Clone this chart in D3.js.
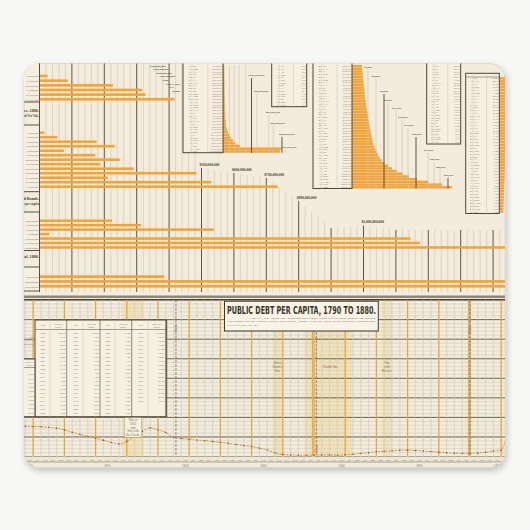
<!DOCTYPE html>
<html>
<head>
<meta charset="utf-8">
<script src="https://cdn.jsdelivr.net/npm/d3@7/dist/d3.min.js"></script>
<style>
  html, body { margin: 0; padding: 0; background: #f7f7f5; }
  svg { display: block; }
  .tiny { font-family: 'Liberation Serif', 'DejaVu Serif', serif; fill: #7a7264; }
  .lbl { font-family: 'Liberation Serif', 'DejaVu Serif', serif; fill: #4a4235; font-weight: bold; }
</style>
</head>
<body>
<div id="graphic"></div>
<script>
// ---------- upper section: bar groups, values in $ millions ----------
const debtGroup = [25, 87, 227, 317, 327, 417];
const valuationGroup = [15, 55, 176, 232, 75, 172, 248, 188, 291, 484, 211, 530, 735];
const bondsGroup = [224, 314, 538, 31, 1145, 1174, 1500];
const totalGroup = [385, 1500, 1500];
const groupTitles = [['Total Debt, 1880.', ''], ['Debt of Cities, 1880.', 'Assessed Ver Val.,'], ['Railroad Bonds.', 'Stock per capita'], ['Total, 1880.', '']];
const scaleLabels = [500, 600, 700, 800, 1000];

// city debts (small histogram, $ millions) and per capita valuation (large histogram, $)
const cityDebt = [3.7, 4.0, 4.0, 4.3, 4.3, 4.6, 4.6, 4.6, 4.9, 4.9, 5.2, 5.2, 5.6, 5.6, 5.9, 6.2,
  6.5, 6.8, 7.1, 7.7, 8.6, 9.3, 10.2, 12.3, 15.4, 20.1, 24.7, 30.9, 38.6, 52.5, 179, 176];
const perCapitaValuation = [2500, 2550, 2620, 2700, 2750, 2820, 2900, 2970, 3050, 3120, 3170, 3250,
  3350, 3420, 3500, 3620, 3700, 3800, 3920, 4020, 4150, 4270, 4370, 4500, 4620, 4800, 4920, 5050,
  5200, 5350, 5620, 5900, 6200, 6500, 6870, 7400, 8120, 9100, 10000, 11250, 12620, 14250, 16250,
  19000, 22500, 25000];
const stateNames = ['Me.', 'N. H.', 'Vt.', 'Mass.', 'R. I.', 'Conn.', 'N. Y.', 'N. J.', 'Pa.', 'Del.',
  'Md.', 'D. C.', 'Va.', 'W. Va.', 'N. C.', 'S. C.', 'Ga.', 'Fla.', 'Ala.', 'Miss.', 'La.', 'Tex.',
  'Ark.', 'Tenn.', 'Ky.', 'Ohio', 'Mich.', 'Ind.', 'Ill.', 'Wis.', 'Minn.', 'Iowa', 'Mo.', 'Kans.',
  'Nebr.', 'Cal.', 'Oreg.', 'Nev.', 'Colo.', 'Ariz.', 'Dak.', 'Idaho', 'Mont.', 'N. Mex.', 'Utah',
  'Wash.', 'Wyo.'];
const statePerCapita = [62.4, 48.1, 41.7, 38.2, 35.9, 31.4, 28.8, 26.5, 24.9, 22.3, 20.8, 19.6, 18.4,
  17.1, 16.3, 15.2, 14.6, 13.9, 12.8, 12.1, 11.5, 10.7, 10.2, 9.6, 9.1, 8.4, 7.9, 7.3, 6.8, 6.2, 5.7,
  5.3, 4.8, 4.4, 3.9, 3.5, 3.1, 2.8, 2.4, 2.1, 1.8, 1.5, 1.2, 0.9, 0.7, 0.4, 0.2];
const cityStems = [20, 35, 50, 70, 88, 105, 141, 155, 182, 191];
const cityStemLabels = ['', '', '', '', '$100,000,000', '$50,000,000', '$25,000,000', '$10,000,000', '$200,000,000', '$50,000,000'];
const valuationStems = [4000, 6000, 8000, 9000, 11000, 12500, 14000, 16000, 19000, 20500, 22000, 24000];

// ---------- lower section: public debt per capita, 1790 to 1880 ----------
const firstYear = 1790;
const debtPerCapita = [19.0, 19.15, 19.1, 19.4, 18.9, 19.0, 18.2, 16.4, 15.6, 15.7,
  15.5, 15.3, 15.2, 14.9, 14.5, 13.6, 12.4, 11.3, 10.3, 9.3,
  8.3, 7.2, 6.4, 7.8, 10.3, 12.9, 14.7, 13.6, 12.3, 9.8,
  9.2, 8.8, 8.4, 8.1, 7.7, 7.3, 6.8, 6.2, 5.6, 5.1,
  4.3, 3.4, 1.9, 1.0, 0.8, 0.7, 0.7, 0.7, 0.8, 0.8,
  0.7, 0.9, 1.2, 1.6, 1.9, 2.5, 2.7, 2.9, 3.2, 3.3,
  3.1, 2.8, 2.5, 2.2, 1.9, 1.7, 1.6, 1.6, 1.8, 2.2,
  2.8, 3.2, 15.8, 32.0, 52.1, 75.0, 77.0, 71.4, 68.3, 64.9,
  61.1, 56.8, 53.2, 50.5, 49.2, 47.5, 45.7, 43.6, 43.5, 42.6, 38.3];
const inaugurations = [1793, 1797, 1801, 1805, 1809, 1813, 1817, 1821, 1825, 1829, 1833, 1837, 1841, 1845, 1849, 1853, 1857, 1861];
const doubleLines = [1837, 1857];
const panics = [1819.3, 1837.3, 1857];
const wars = [
  { name: ['War of', '1812', 'and', 'War with', 'the Creeks.'], start: 1812.4, end: 1815.2 },
  { name: ['Black', "Hawk's", 'War.'], start: 1831.7, end: 1832.9 },
  { name: ['Florida War.'], start: 1835.8, end: 1841.9 },
  { name: ['War', 'with', 'Mexico.'], start: 1845.7, end: 1847 }
];

// ---------- colours ----------
const cream = '#f3ebdb';
const orange = '#f0a43a';
const dark = '#4d4538';
const light = '#cdc4b2';

const svg = d3.select('#graphic').append('svg').attr('width', 530).attr('height', 530);
const defs = svg.append('defs');
defs.append('clipPath').attr('id', 'pad-clip')
  .append('rect').attr('x', 24).attr('y', 63.5).attr('width', 481).attr('height', 404).attr('rx', 15);
defs.append('filter').attr('id', 'shadow').attr('x', '-5%').attr('y', '-5%').attr('width', '112%').attr('height', '115%')
  .append('feDropShadow').attr('dx', 1.5).attr('dy', 3).attr('stdDeviation', 3)
  .attr('flood-color', '#000').attr('flood-opacity', 0.22);

// the mouse pad
svg.append('rect').attr('x', 24).attr('y', 63.5).attr('width', 481).attr('height', 404).attr('rx', 15)
  .attr('fill', cream).attr('stroke', '#ddd3c0').attr('stroke-width', 0.8).attr('filter', 'url(#shadow)');

const chart = svg.append('g').attr('clip-path', 'url(#pad-clip)');

// ================= upper section =================
const x = d3.scaleLinear().domain([0, 1000]).range([39.5, 363.5]);
const gridStart = d3.scaleLinear().domain([500, 600, 700, 800, 900, 1000, 1100])
  .range([168, 173, 178, 201, 228, 225.5, 230]).clamp(true);

chart.append('g').selectAll('line')
  .data(d3.range(0, 1461, 20))
  .join('line')
  .attr('x1', d => x(d)).attr('x2', d => x(d))
  .attr('y1', d => d < 500 ? 60 : gridStart(d))
  .attr('y2', 292)
  .attr('stroke', d => d % 100 === 0 ? dark : light)
  .attr('stroke-width', d => d % 100 === 0 ? 0.9 : 0.6);

// scale labels on the stepped lines
chart.append('g').selectAll('text')
  .data(scaleLabels)
  .join('text')
  .attr('class', 'lbl')
  .attr('x', d => x(d) - 2)
  .attr('y', d => gridStart(d) - 2.5)
  .attr('font-size', 3.6)
  .text(d => d3.format('$,')(d * 1e6));

// bar groups
const groupLayout = [[73.7, 101.6], [130.45, 188.95], [218.5, 249.7], [274.3, 288.6]];
const boxLayout = [[60, 102], [125, 191.7], [212, 250.5], [267, 291]];
const titleY = [0, 112, 200, 258];
[debtGroup, valuationGroup, bondsGroup, totalGroup].forEach((vals, gi) => {
  const y = d3.scaleBand().domain(d3.range(vals.length))
    .range(groupLayout[gi]).paddingInner(0.43).paddingOuter(0.215);

  chart.append('g').selectAll('rect')
    .data(vals)
    .join('rect')
    .attr('x', x(0))
    .attr('y', (d, i) => y(i))
    .attr('width', d => x(d) - x(0))
    .attr('height', y.bandwidth())
    .attr('fill', orange);

  // the label box at the left
  chart.append('rect').attr('x', 10).attr('y', boxLayout[gi][0])
    .attr('width', 29.5).attr('height', boxLayout[gi][1] - boxLayout[gi][0])
    .attr('fill', '#f6efe1').attr('stroke', dark).attr('stroke-width', 0.9);
  chart.append('g').selectAll('text')
    .data(vals)
    .join('text')
    .attr('class', 'tiny')
    .attr('x', 38.3)
    .attr('y', (d, i) => y(i) + y.bandwidth())
    .attr('text-anchor', 'end')
    .attr('font-size', 2.6)
    .text(d => d3.format(',')(Math.round(d * 1e6)));

  if (titleY[gi]) {
    groupTitles[gi].forEach((t, k) => {
      chart.append('text').attr('class', 'lbl')
        .attr('x', 39).attr('y', titleY[gi] + k * 4.5)
        .attr('text-anchor', 'end')
        .attr('font-size', k ? 3.2 : 4.2)
        .attr('font-weight', k ? 'normal' : 'bold')
        .text(t);
    });
  }
});

// generic little table of tiny rows
function drawTable(x0, x1, y0, y1, rowScale, rows) {
  chart.append('rect').attr('x', x0).attr('y', y0).attr('width', x1 - x0).attr('height', y1 - y0)
    .attr('fill', '#f6efe1').attr('stroke', dark).attr('stroke-width', 1);
  const w = x1 - x0;
  [0.22, 0.62].forEach(f => {
    chart.append('line').attr('x1', x0 + w * f).attr('x2', x0 + w * f).attr('y1', y0).attr('y2', y1)
      .attr('stroke', light).attr('stroke-width', 0.5);
  });
  const g = chart.append('g');
  rows.forEach((r, i) => {
    const yy = rowScale(i) + rowScale.bandwidth() * 0.85;
    g.append('text').attr('class', 'tiny').attr('x', x0 + w * 0.2).attr('y', yy)
      .attr('text-anchor', 'end').attr('font-size', 2.4).text(r[0]);
    g.append('text').attr('class', 'tiny').attr('x', x0 + w * 0.25).attr('y', yy)
      .attr('font-size', 2.4).text(r[1]);
    g.append('text').attr('class', 'tiny').attr('x', x1 - 1.2).attr('y', yy)
      .attr('text-anchor', 'end').attr('font-size', 2.4).text(r[2]);
  });
}

// city debt table + histogram
const h1x = d3.scaleLinear().domain([0, 200]).range([223, 223 + 64.8]);
const h1y = d3.scaleBand().domain(d3.range(cityDebt.length)).range([65, 152.7]).paddingInner(0.1);
chart.append('g').selectAll('rect')
  .data(cityDebt)
  .join('rect')
  .attr('x', h1x(0)).attr('y', (d, i) => h1y(i))
  .attr('width', d => h1x(d) - h1x(0)).attr('height', h1y.bandwidth())
  .attr('fill', orange);
drawTable(183, 223, 58, 152.7, h1y,
  cityDebt.map((d, i) => [cityDebt.length - i, stateNames[(i * 3) % stateNames.length], d3.format(',')(Math.round(d * 1e6))]));

const h1StemTop = [65, 65, 65, 65, 78, 94, 115, 126, 137, 150];
chart.append('g').selectAll('line')
  .data(cityStems)
  .join('line')
  .attr('x1', d => h1x(d)).attr('x2', d => h1x(d))
  .attr('y1', (d, i) => h1StemTop[i]).attr('y2', 153)
  .attr('stroke', (d, i) => (i === 4 || i === 8) ? dark : light)
  .attr('stroke-width', (d, i) => (i === 4 || i === 8) ? 0.9 : 0.6);
chart.append('g').selectAll('text')
  .data(cityStems)
  .join('text')
  .attr('class', 'lbl')
  .attr('x', d => h1x(d) - 3)
  .attr('y', (d, i) => h1StemTop[i] - 2)
  .attr('font-size', 2.9)
  .text((d, i) => cityStemLabels[i]);

// second table next to the city histogram
const t2y = d3.scaleBand().domain(d3.range(15)).range([65, 106]);
drawTable(271.7, 306.7, 58, 106.7, t2y,
  d3.range(15).map(i => [i + 1, stateNames[i + 20], d3.format('.1f')(statePerCapita[i + 10])]));

// per capita valuation table + histogram
const h2x = d3.scaleLinear().domain([0, 25000]).range([352, 452]);
const h2y = d3.scaleBand().domain(d3.range(perCapitaValuation.length)).range([65, 188.5]).paddingInner(0.1);
chart.append('g').selectAll('rect')
  .data(perCapitaValuation)
  .join('rect')
  .attr('x', h2x(0)).attr('y', (d, i) => h2y(i))
  .attr('width', d => h2x(d) - h2x(0)).attr('height', h2y.bandwidth())
  .attr('fill', orange);
drawTable(313, 352, 58, 188.5, h2y,
  perCapitaValuation.map((d, i) => [perCapitaValuation.length - i, stateNames[i % stateNames.length], d3.format(',.2f')(d)]));

const h2StemTop = [70, 79, 94, 103, 111, 120, 128, 137, 153, 162, 170, 178];
chart.append('g').selectAll('line')
  .data(valuationStems)
  .join('line')
  .attr('x1', d => h2x(d)).attr('x2', d => h2x(d))
  .attr('y1', (d, i) => h2StemTop[i]).attr('y2', 188.5)
  .attr('stroke', d => d % 8000 === 0 ? dark : light)
  .attr('stroke-width', d => d % 8000 === 0 ? 0.9 : 0.6);

// two right hand tables (drawn before the stem labels so the labels stay on top)
const t4y = d3.scaleBand().domain(d3.range(29)).range([65, 143.5]);
drawTable(426.7, 460.7, 58, 144, t4y,
  d3.range(29).map(i => [i + 1, stateNames[(i + 7) % stateNames.length], d3.format('.2f')(statePerCapita[i])]));

chart.append('g').selectAll('text')
  .data(valuationStems)
  .join('text')
  .attr('class', 'lbl')
  .attr('x', d => h2x(d) - 4)
  .attr('y', (d, i) => h2StemTop[i] - 2)
  .attr('font-size', 2.9)
  .text(d => d3.format('$,')(d));

const t5y = d3.scaleBand().domain(d3.range(statePerCapita.length)).range([77, 213]);
const t5x = d3.scaleLinear().domain([0, 60]).range([499.3, 520]);
chart.append('g').selectAll('rect')
  .data(statePerCapita)
  .join('rect')
  .attr('x', t5x(0)).attr('y', (d, i) => t5y(i) + 0.2)
  .attr('width', d => t5x(d) - t5x(0) + 4).attr('height', t5y.bandwidth() - 0.4)
  .attr('fill', orange);
drawTable(465.7, 499.3, 73.3, 213.5, t5y,
  statePerCapita.map((d, i) => [i + 1, stateNames[i], d3.format('.2f')(d)]));
chart.append('line').attr('x1', 465.7).attr('x2', 499.3).attr('y1', 77).attr('y2', 77)
  .attr('stroke', dark).attr('stroke-width', 0.5);

// stray labels from the chart off the pad, top left
const topNotes = ['$300,000,000', '$350,000,000', '$400,000,000', '$450,000,000', '$400', 'CHICAGO,', 'ILL.', '$0,000'];
chart.append('g').selectAll('text')
  .data(topNotes)
  .join('text')
  .attr('class', 'lbl')
  .attr('x', (d, i) => 150 + i * 3.2)
  .attr('y', (d, i) => 66.5 + i * 3.6)
  .attr('font-size', 2.8)
  .text(d => d);

// heavy rule between the two charts
chart.append('rect').attr('x', 0).attr('y', 295.5).attr('width', 530).attr('height', 2.5).attr('fill', '#8f8776');
chart.append('line').attr('x1', 0).attr('x2', 530).attr('y1', 299.6).attr('y2', 299.6)
  .attr('stroke', '#3f382d').attr('stroke-width', 1.3);

// ================= lower section =================
const years = debtPerCapita.map((d, i) => firstYear + i);
const xYear = d3.scaleLinear().domain([1812, 1860]).range([119, 493.4]);
const yDebt = d3.scaleLinear().domain([0, 80]).range([456.5, 300.1]);
const lower = chart.append('g');

// war bands
lower.append('g').selectAll('rect')
  .data(wars)
  .join('rect')
  .attr('x', d => xYear(d.start)).attr('y', 300)
  .attr('width', d => xYear(d.end) - xYear(d.start)).attr('height', 156.5)
  .attr('fill', '#f1d68c').attr('opacity', 0.45);

// light grid
lower.append('g').selectAll('line')
  .data(d3.range(0, 81, 2))
  .join('line')
  .attr('x1', 0).attr('x2', 530)
  .attr('y1', d => yDebt(d)).attr('y2', d => yDebt(d))
  .attr('stroke', d => d % 10 === 0 ? '#5a5244' : '#cfcac0')
  .attr('stroke-width', d => d % 10 === 0 ? 0.9 : 0.55);
lower.append('g').selectAll('line')
  .data(years)
  .join('line')
  .attr('x1', d => xYear(d)).attr('x2', d => xYear(d))
  .attr('y1', 300).attr('y2', 462)
  .attr('stroke', '#c9c6c0').attr('stroke-width', 0.6);

// presidential terms in orange
lower.append('g').selectAll('line')
  .data(inaugurations)
  .join('line')
  .attr('x1', d => xYear(d)).attr('x2', d => xYear(d))
  .attr('y1', 300).attr('y2', 462)
  .attr('stroke', '#e9a63c').attr('stroke-width', 1.2);
lower.append('g').selectAll('line')
  .data(doubleLines)
  .join('line')
  .attr('x1', d => xYear(d) - 1.6).attr('x2', d => xYear(d) - 1.6)
  .attr('y1', 300).attr('y2', 462)
  .attr('stroke', '#e9a63c').attr('stroke-width', 1);

// panics
lower.append('g').selectAll('line')
  .data(panics)
  .join('line')
  .attr('x1', d => xYear(d)).attr('x2', d => xYear(d))
  .attr('y1', 300).attr('y2', 458)
  .attr('stroke', '#6b6252').attr('stroke-width', 0.7)
  .attr('stroke-dasharray', '3,1');
const panicLabelY = [328, 448, 329];
panics.forEach((p, i) => {
  lower.append('text').attr('class', 'tiny')
    .attr('transform', `translate(${xYear(p) + 1.2},${panicLabelY[i]}) rotate(-90)`)
    .attr('text-anchor', 'middle').attr('font-size', 3.4).attr('fill', '#5d5548')
    .text('Panic');
});

// the debt per capita line
const line = d3.line().x((d, i) => xYear(years[i])).y(d => yDebt(d)).curve(d3.curveMonotoneX);
lower.append('path').datum(debtPerCapita)
  .attr('d', line)
  .attr('fill', 'none')
  .attr('stroke', '#c98f3c')
  .attr('stroke-width', 0.9)
  .attr('stroke-dasharray', '2.2,1.2');
lower.append('g').selectAll('circle')
  .data(debtPerCapita)
  .join('circle')
  .attr('cx', (d, i) => xYear(years[i]))
  .attr('cy', d => yDebt(d))
  .attr('r', 0.7)
  .attr('fill', '#6e5630');

// war labels
wars.forEach((w, wi) => {
  const cx = (xYear(w.start) + xYear(w.end)) / 2 + (wi === 2 ? 2 : 0);
  const y0 = wi === 0 ? 421 : 364;
  if (wi === 0) {
    lower.append('rect').attr('x', cx - 8.5).attr('y', 417.5).attr('width', 17).attr('height', 20)
      .attr('fill', '#f6efdc').attr('stroke', '#8a8270').attr('stroke-width', 0.4);
  }
  w.name.forEach((t, k) => {
    lower.append('text').attr('class', 'tiny')
      .attr('x', cx).attr('y', y0 + k * 3.8 + (wi === 2 ? 4 : 0))
      .attr('text-anchor', 'middle').attr('font-size', 3.1).attr('fill', '#4f473a')
      .text(t);
  });
});

// table of values, lower left
const pairs = [[35, 50, 66.7], [68, 83, 100], [100, 115, 131.7], [133, 148, 165.5]];
lower.append('rect').attr('x', 35).attr('y', 320).attr('width', 131.7).attr('height', 96.7)
  .attr('fill', '#f6f0e3').attr('stroke', dark).attr('stroke-width', 1);
lower.append('rect').attr('x', 10).attr('y', 359).attr('width', 25).attr('height', 57.7)
  .attr('fill', '#f6f0e3').attr('stroke', dark).attr('stroke-width', 1);
lower.append('line').attr('x1', 35).attr('x2', 166.7).attr('y1', 329.5).attr('y2', 329.5)
  .attr('stroke', dark).attr('stroke-width', 0.5);
const rowY = d3.scaleBand().domain(d3.range(21)).range([330.5, 414.5]);
pairs.forEach((p, pi) => {
  lower.append('line').attr('x1', p[1]).attr('x2', p[1]).attr('y1', 320).attr('y2', 416.7)
    .attr('stroke', light).attr('stroke-width', 0.5);
  lower.append('line').attr('x1', p[2]).attr('x2', p[2]).attr('y1', 320).attr('y2', 416.7)
    .attr('stroke', dark).attr('stroke-width', 0.6);
  lower.append('text').attr('class', 'tiny').attr('x', (p[0] + p[1]) / 2).attr('y', 326)
    .attr('text-anchor', 'middle').attr('font-size', 2.8).attr('fill', '#4f473a').text('Year');
  ['Debt per', 'capita.'].forEach((t, k) => {
    lower.append('text').attr('class', 'tiny').attr('x', (p[1] + p[2]) / 2).attr('y', 324.5 + k * 3)
      .attr('text-anchor', 'middle').attr('font-size', 2.6).attr('fill', '#4f473a').text(t);
  });
  const start = 1800 + pi * 21;
  d3.range(21).forEach(r => {
    const yr = start + r;
    if (yr > 1880) return;
    const v = debtPerCapita[yr - firstYear];
    const yy = rowY(r) + rowY.bandwidth() * 0.8;
    lower.append('text').attr('class', 'tiny').attr('x', (p[0] + p[1]) / 2).attr('y', yy)
      .attr('text-anchor', 'middle').attr('font-size', 2.6).text(yr);
    lower.append('text').attr('class', 'tiny').attr('x', p[2] - 1.3).attr('y', yy)
      .attr('text-anchor', 'end').attr('font-size', 2.6).text((r === 0 ? '$' : '') + d3.format('.2f')(v));
  });
});
// partial column for the 1790s
['Debt per', 'capita.'].forEach((t, k) => {
  lower.append('text').attr('class', 'tiny').attr('x', 33.5).attr('y', 363 + k * 3)
    .attr('text-anchor', 'end').attr('font-size', 2.6).attr('fill', '#4f473a').text(t);
});
lower.append('line').attr('x1', 10).attr('x2', 35).attr('y1', 367.5).attr('y2', 367.5)
  .attr('stroke', dark).attr('stroke-width', 0.5);
const oldRows = d3.scaleBand().domain(d3.range(10)).range([372, 414.5]);
debtPerCapita.slice(0, 10).forEach((v, r) => {
  lower.append('text').attr('class', 'tiny').attr('x', 33.7).attr('y', oldRows(r) + oldRows.bandwidth() * 0.8)
    .attr('text-anchor', 'end').attr('font-size', 2.6).text(d3.format('.2f')(v));
});
['Year', 'Excess of', 'expenditure'].forEach((t, k) => {
  lower.append('text').attr('class', 'tiny').attr('x', 34).attr('y', 338 + k * 3.4)
    .attr('text-anchor', 'end').attr('font-size', 2.6).text(t);
});

// title box
lower.append('rect').attr('x', 224.5).attr('y', 301.2).attr('width', 153.8).attr('height', 29.8)
  .attr('fill', '#f8f3e7').attr('stroke', '#3f382d').attr('stroke-width', 1);
lower.append('text')
  .attr('x', 227).attr('y', 314.2)
  .attr('font-family', "'Liberation Sans Narrow', 'DejaVu Sans Condensed', 'Liberation Sans', sans-serif")
  .attr('font-weight', 'bold').attr('font-size', 10.6).attr('fill', '#3a3329')
  .attr('textLength', 149).attr('lengthAdjust', 'spacingAndGlyphs')
  .text('PUBLIC DEBT PER CAPITA, 1790 TO 1880.');
const noteLines = [
  'Note.—The color line crossing this chart from left to right shows the annual',
  'variations of the Public Debt, per capita, from 1790 to 1880. (For further explanation,',
  'see Plate of Chart, Plate 34.)'
];
noteLines.forEach((t, k) => {
  const el = lower.append('text').attr('class', 'tiny')
    .attr('x', k === 0 ? 250 : 227).attr('y', 319 + k * 3.4)
    .attr('font-size', 2.7).attr('fill', '#6a6253').text(t);
  if (k < 2) el.attr('textLength', k === 0 ? 126 : 149).attr('lengthAdjust', 'spacingAndGlyphs');
});

// bottom strip with the years
lower.append('rect').attr('x', 0).attr('y', 456.5).attr('width', 530).attr('height', 5.5)
  .attr('fill', '#ede5d4');
lower.append('line').attr('x1', 0).attr('x2', 530).attr('y1', 462).attr('y2', 462)
  .attr('stroke', '#7a7262').attr('stroke-width', 0.6);
lower.append('g').selectAll('text')
  .data(years)
  .join('text')
  .attr('class', 'tiny')
  .attr('x', d => xYear(d) + 3.9)
  .attr('y', 460.6)
  .attr('text-anchor', 'middle')
  .attr('font-size', 2.4)
  .text(d => d);
lower.append('g').selectAll('text')
  .data(years.filter(d => d % 10 === 0))
  .join('text')
  .attr('class', 'tiny')
  .attr('x', d => xYear(d) + 3.9)
  .attr('y', 466.5)
  .attr('text-anchor', 'middle')
  .attr('font-size', 3.2)
  .attr('fill', '#b2a998')
  .text(d => d);
</script>
</body>
</html>
